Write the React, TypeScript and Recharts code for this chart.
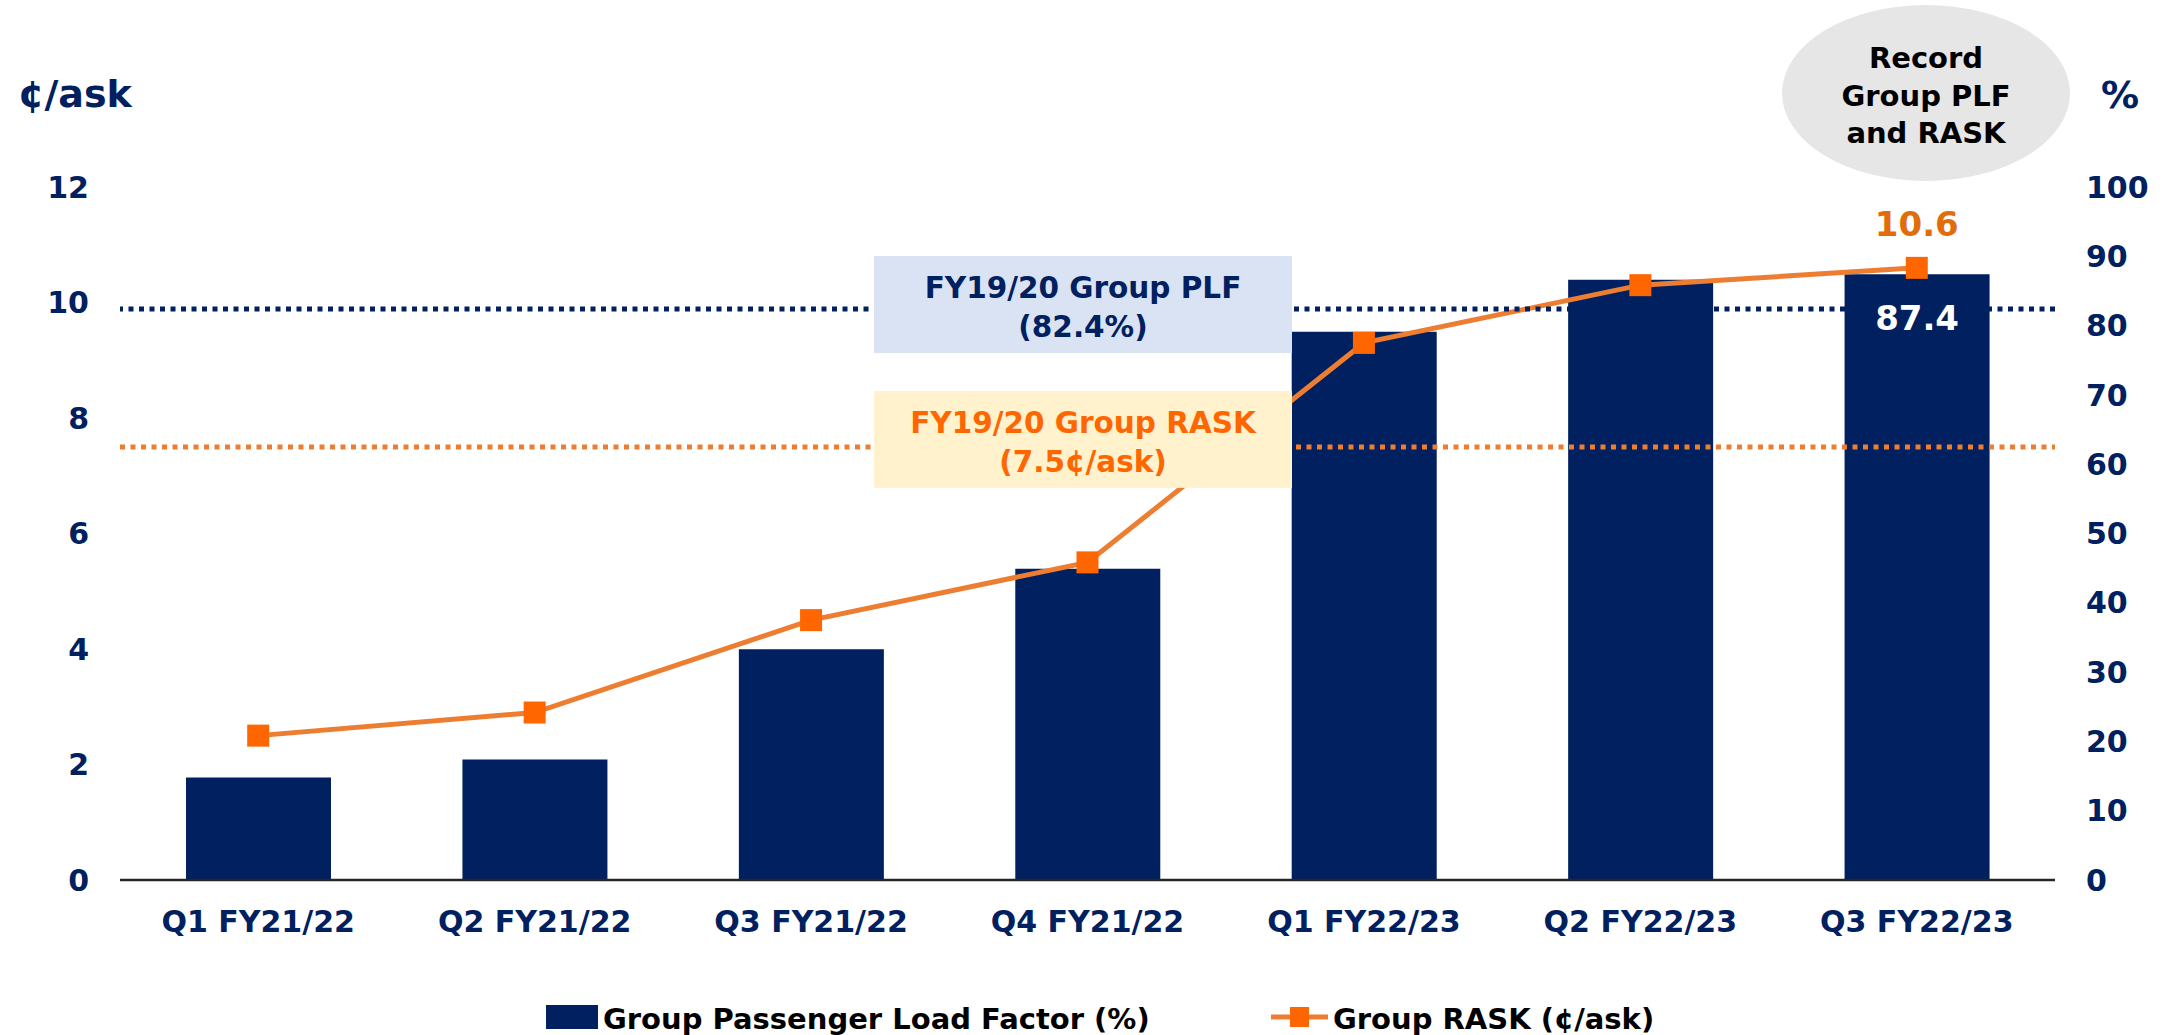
import {
  ComposedChart,
  Bar,
  Line,
  XAxis,
  YAxis,
  ReferenceLine,
  LabelList,
} from "recharts";

const quarters = [
  "Q1 FY21/22",
  "Q2 FY21/22",
  "Q3 FY21/22",
  "Q4 FY21/22",
  "Q1 FY22/23",
  "Q2 FY22/23",
  "Q3 FY22/23",
];
const loadFactor = [14.8, 17.4, 33.3, 44.9, 79.1, 86.6, 87.4];
const rask = [2.5, 2.9, 4.5, 5.5, 9.3, 10.3, 10.6];
const raskTicks = [0, 2, 4, 6, 8, 10, 12];
const plfTicks = [0, 10, 20, 30, 40, 50, 60, 70, 80, 90, 100];
const seriesNames = ["Group Passenger Load Factor (%)", "Group RASK (¢/ask)"];
const plfBenchmark = 82.4;
const raskBenchmark = 7.5;
const plfBoxLines = ["FY19/20 Group PLF", "(82.4%)"];
const raskBoxLines = ["FY19/20 Group RASK", "(7.5¢/ask)"];
const calloutLines = ["Record", "Group PLF", "and RASK"];

const data = quarters.map((q, i) => ({ quarter: q, plf: loadFactor[i], rask: rask[i] }));

const NAVY = "#002060";
const LINE_ORANGE = "#ED7D31";
const MARK_ORANGE = "#FF6600";
const TEXT_ORANGE = "#E36C0A";
const FONT = "'DejaVu Sans', Verdana, sans-serif";

const tickStyle = { fill: NAVY, fontSize: 30, fontWeight: 700, fontFamily: FONT };

function SquareDot(props: any) {
  const { cx, cy, index } = props;
  if (cx == null || cy == null) return null;
  return <rect key={`dot-${index}`} x={cx - 11} y={cy - 11} width={22} height={22} fill={MARK_ORANGE} />;
}

// box label sitting on a benchmark line
function benchmarkBox(lines: string[], fill: string, color: string, lift: number) {
  return (props: any) => {
    const vb = props.viewBox || {};
    const top = vb.y - lift;
    const left = vb.x + 754;
    return (
      <g>
        <rect x={left} y={top} width={418} height={97} fill={fill} />
        {lines.map((t, i) => (
          <text
            key={t}
            x={left + 209}
            y={top + 42 + i * 39}
            textAnchor="middle"
            fill={color}
            fontSize={29.5}
            fontWeight={700}
            fontFamily={FONT}
          >
            {t}
          </text>
        ))}
      </g>
    );
  };
}

export default function App() {
  const last = data.length - 1;
  return (
    <div style={{ position: "absolute", left: 0, top: 0, width: 2166, height: 1035, background: "#fff" }}>
      <ComposedChart
        width={2166}
        height={1035}
        data={data}
        margin={{ top: 187, right: 0, bottom: 0, left: 0 }}
        barSize={145}
      >
        <XAxis
          dataKey="quarter"
          height={155}
          tickLine={false}
          tickSize={0}
          tickMargin={31}
          axisLine={{ stroke: "#262626", strokeWidth: 2.5 }}
          tick={tickStyle}
          interval={0}
        />
        <YAxis
          yAxisId="rask"
          orientation="left"
          width={120}
          domain={[0, 12]}
          ticks={raskTicks}
          axisLine={false}
          tickLine={false}
          tickSize={0}
          tickMargin={31}
          tick={tickStyle}
        />
        <YAxis
          yAxisId="plf"
          orientation="right"
          width={111}
          domain={[0, 100]}
          ticks={plfTicks}
          axisLine={false}
          tickLine={false}
          tickSize={0}
          tickMargin={31}
          tick={{ ...tickStyle, textAnchor: "start" }}
        />
        <Bar yAxisId="plf" dataKey="plf" fill={NAVY} isAnimationActive={false}>
          <LabelList
            dataKey="plf"
            content={(p: any) =>
              p.index === last ? (
                <text
                  x={p.x + p.width / 2}
                  y={p.y + 56}
                  textAnchor="middle"
                  fill="#fff"
                  fontSize={34}
                  fontWeight={700}
                  fontFamily={FONT}
                >
                  {p.value}
                </text>
              ) : null
            }
          />
        </Bar>
        <Line
          yAxisId="rask"
          dataKey="rask"
          stroke={LINE_ORANGE}
          strokeWidth={5}
          dot={SquareDot}
          activeDot={false}
          isAnimationActive={false}
        >
          <LabelList
            dataKey="rask"
            content={(p: any) =>
              p.index === last ? (
                <text
                  x={p.x}
                  y={p.y - 32}
                  textAnchor="middle"
                  fill={TEXT_ORANGE}
                  fontSize={34}
                  fontWeight={700}
                  fontFamily={FONT}
                >
                  {p.value}
                </text>
              ) : null
            }
          />
        </Line>
        <ReferenceLine
          yAxisId="plf"
          y={plfBenchmark}
          stroke={NAVY}
          strokeWidth={5}
          strokeDasharray="5 5.5"
          label={benchmarkBox(plfBoxLines, "#DAE3F3", NAVY, 53)}
        />
        <ReferenceLine
          yAxisId="rask"
          y={raskBenchmark}
          stroke={LINE_ORANGE}
          strokeWidth={5}
          strokeDasharray="5 5.5"
          label={benchmarkBox(raskBoxLines, "#FFF2CC", MARK_ORANGE, 56)}
        />
      </ComposedChart>
      <svg
        width={2166}
        height={1035}
        style={{ position: "absolute", left: 0, top: 0, pointerEvents: "none" }}
        fontFamily={FONT}
        fontWeight={700}
      >
        <text x={18} y={107} fill={NAVY} fontSize={38}>¢/ask</text>
        <text x={2101} y={108} fill={NAVY} fontSize={38}>%</text>
        <ellipse cx={1926} cy={93} rx={144} ry={88} fill="#E7E6E6" />
        {calloutLines.map((t, i) => (
          <text key={t} x={1926} y={68 + i * 37.5} textAnchor="middle" fill="#000" fontSize={29}>
            {t}
          </text>
        ))}
        <rect x={546} y={1005} width={52} height={24} fill={NAVY} />
        <text x={603} y={1029} fill="#000" fontSize={29}>{seriesNames[0]}</text>
        <line x1={1271} y1={1017} x2={1328} y2={1017} stroke={LINE_ORANGE} strokeWidth={5} />
        <rect x={1290} y={1007} width={19} height={20} fill={MARK_ORANGE} />
        <text x={1333} y={1029} fill="#000" fontSize={29}>{seriesNames[1]}</text>
      </svg>
    </div>
  );
}
